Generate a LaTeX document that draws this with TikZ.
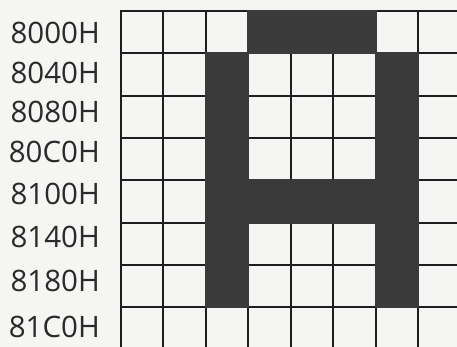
\documentclass[tikz,border=0pt]{standalone}
\usepackage{fontspec}
\setmainfont{Open Sans}
\definecolor{bg}{HTML}{F5F5F3}
\definecolor{ink}{HTML}{1E1E1E}
\definecolor{shade}{HTML}{3A3A3A}
\definecolor{labelink}{HTML}{2A2A2A}
\begin{document}
\begin{tikzpicture}[x=1pt,y=-1pt,
  addr/.style={anchor=east,inner sep=0pt,font=\fontsize{29.5}{31}\selectfont,text=labelink},
  gridline/.style={draw=ink,line width=2pt},
  cellfill/.style={fill=shade}]
\fill[bg] (0,0) rectangle (457,347);
\useasboundingbox (0,0) rectangle (457,347);
% grid
\foreach \i in {0,...,7}{
  \draw[gridline] ({120.5+42.5*\i},11) -- ({120.5+42.5*\i},347);
}
\foreach \j in {0,...,8}{
  \draw[gridline] (119.5,{11+42.3*\j}) -- (457,{11+42.3*\j});
}
% letter A shape
\fill[cellfill] (247,10) rectangle (376.5,54.3);
\fill[cellfill] (204.5,52.3) rectangle (249,308);
\fill[cellfill] (374.5,52.3) rectangle (419,308);
\fill[cellfill] (204.5,179.2) rectangle (419,223.5);
% labels
\node[addr] (l0) at (100,33) {8000H};
\node[addr] (l1) at (100,73) {8040H};
\node[addr] (l2) at (100,112) {8080H};
\node[addr] (l3) at (100,152) {80C0H};
\node[addr] (l4) at (100,194) {8100H};
\node[addr] (l5) at (100,237) {8140H};
\node[addr] (l6) at (100,281) {8180H};
\node[addr] (l7) at (100,327) {81C0H};
\end{tikzpicture}
\end{document}
